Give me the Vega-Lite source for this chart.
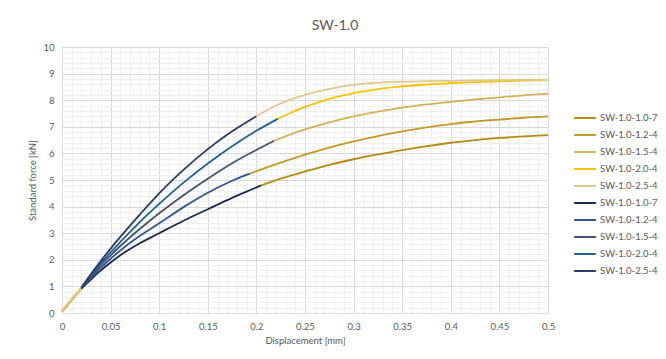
{
  "$schema": "https://vega.github.io/schema/vega-lite/v6.json",
  "width": 486,
  "height": 266,
  "autosize": {"type": "none"},
  "padding": {"left": 62, "top": 47, "right": 118, "bottom": 46},
  "background": "white",
  "title": {
    "text": "SW-1.0",
    "font": "Lato",
    "fontSize": 14,
    "fontWeight": "normal",
    "color": "#595959",
    "anchor": "middle",
    "frame": "group",
    "dx": 30,
    "offset": 9
  },
  "config": {
    "font": "Lato",
    "view": {"stroke": "#D9D9D9", "strokeWidth": 1},
    "axis": {
      "labelFont": "Lato",
      "labelFontSize": 9.5,
      "labelColor": "#595959",
      "labelFlush": false,
      "labelOverlap": false,
      "titleFont": "Lato",
      "titleFontSize": 9.5,
      "titleFontWeight": "normal",
      "titleColor": "#595959",
      "ticks": false,
      "domain": false,
      "gridColor": "#D9D9D9",
      "gridWidth": 1
    },
    "legend": {
      "labelFont": "Lato",
      "labelFontSize": 9.5,
      "labelColor": "#595959",
      "symbolType": "stroke",
      "symbolSize": 470,
      "symbolStrokeWidth": 2,
      "rowPadding": -3,
      "labelOffset": 3,
      "padding": 0
    }
  },
  "data": {
    "values": [
      {"s": "g:SW-1.0-1.0-7", "p": "a", "x": 0, "y": 0.05},
      {"s": "g:SW-1.0-1.0-7", "p": "a", "x": 0.005, "y": 0.27},
      {"s": "g:SW-1.0-1.0-7", "p": "a", "x": 0.01, "y": 0.49},
      {"s": "g:SW-1.0-1.0-7", "p": "a", "x": 0.015, "y": 0.71},
      {"s": "g:SW-1.0-1.0-7", "p": "a", "x": 0.022, "y": 0.98},
      {"s": "g:SW-1.0-1.0-7", "p": "b", "x": 0.205, "y": 4.8},
      {"s": "g:SW-1.0-1.0-7", "p": "b", "x": 0.225, "y": 5.05},
      {"s": "g:SW-1.0-1.0-7", "p": "b", "x": 0.25, "y": 5.32},
      {"s": "g:SW-1.0-1.0-7", "p": "b", "x": 0.275, "y": 5.57},
      {"s": "g:SW-1.0-1.0-7", "p": "b", "x": 0.3, "y": 5.78},
      {"s": "g:SW-1.0-1.0-7", "p": "b", "x": 0.325, "y": 5.96},
      {"s": "g:SW-1.0-1.0-7", "p": "b", "x": 0.35, "y": 6.12},
      {"s": "g:SW-1.0-1.0-7", "p": "b", "x": 0.375, "y": 6.27},
      {"s": "g:SW-1.0-1.0-7", "p": "b", "x": 0.4, "y": 6.4},
      {"s": "g:SW-1.0-1.0-7", "p": "b", "x": 0.425, "y": 6.5},
      {"s": "g:SW-1.0-1.0-7", "p": "b", "x": 0.45, "y": 6.58},
      {"s": "g:SW-1.0-1.0-7", "p": "b", "x": 0.475, "y": 6.64},
      {"s": "g:SW-1.0-1.0-7", "p": "b", "x": 0.5, "y": 6.69},

      {"s": "g:SW-1.0-1.2-4", "p": "a", "x": 0, "y": 0.06},
      {"s": "g:SW-1.0-1.2-4", "p": "a", "x": 0.005, "y": 0.28},
      {"s": "g:SW-1.0-1.2-4", "p": "a", "x": 0.01, "y": 0.5},
      {"s": "g:SW-1.0-1.2-4", "p": "a", "x": 0.015, "y": 0.72},
      {"s": "g:SW-1.0-1.2-4", "p": "a", "x": 0.022, "y": 1.0},
      {"s": "g:SW-1.0-1.2-4", "p": "b", "x": 0.193, "y": 5.24},
      {"s": "g:SW-1.0-1.2-4", "p": "b", "x": 0.2, "y": 5.33},
      {"s": "g:SW-1.0-1.2-4", "p": "b", "x": 0.225, "y": 5.65},
      {"s": "g:SW-1.0-1.2-4", "p": "b", "x": 0.25, "y": 5.95},
      {"s": "g:SW-1.0-1.2-4", "p": "b", "x": 0.275, "y": 6.22},
      {"s": "g:SW-1.0-1.2-4", "p": "b", "x": 0.3, "y": 6.45},
      {"s": "g:SW-1.0-1.2-4", "p": "b", "x": 0.325, "y": 6.65},
      {"s": "g:SW-1.0-1.2-4", "p": "b", "x": 0.35, "y": 6.83},
      {"s": "g:SW-1.0-1.2-4", "p": "b", "x": 0.375, "y": 6.98},
      {"s": "g:SW-1.0-1.2-4", "p": "b", "x": 0.4, "y": 7.1},
      {"s": "g:SW-1.0-1.2-4", "p": "b", "x": 0.425, "y": 7.2},
      {"s": "g:SW-1.0-1.2-4", "p": "b", "x": 0.45, "y": 7.27},
      {"s": "g:SW-1.0-1.2-4", "p": "b", "x": 0.475, "y": 7.34},
      {"s": "g:SW-1.0-1.2-4", "p": "b", "x": 0.5, "y": 7.39},

      {"s": "g:SW-1.0-1.5-4", "p": "a", "x": 0, "y": 0.07},
      {"s": "g:SW-1.0-1.5-4", "p": "a", "x": 0.005, "y": 0.29},
      {"s": "g:SW-1.0-1.5-4", "p": "a", "x": 0.01, "y": 0.51},
      {"s": "g:SW-1.0-1.5-4", "p": "a", "x": 0.015, "y": 0.73},
      {"s": "g:SW-1.0-1.5-4", "p": "a", "x": 0.022, "y": 1.01},
      {"s": "g:SW-1.0-1.5-4", "p": "b", "x": 0.218, "y": 6.47},
      {"s": "g:SW-1.0-1.5-4", "p": "b", "x": 0.225, "y": 6.57},
      {"s": "g:SW-1.0-1.5-4", "p": "b", "x": 0.25, "y": 6.9},
      {"s": "g:SW-1.0-1.5-4", "p": "b", "x": 0.275, "y": 7.17},
      {"s": "g:SW-1.0-1.5-4", "p": "b", "x": 0.3, "y": 7.39},
      {"s": "g:SW-1.0-1.5-4", "p": "b", "x": 0.325, "y": 7.57},
      {"s": "g:SW-1.0-1.5-4", "p": "b", "x": 0.35, "y": 7.72},
      {"s": "g:SW-1.0-1.5-4", "p": "b", "x": 0.375, "y": 7.84},
      {"s": "g:SW-1.0-1.5-4", "p": "b", "x": 0.4, "y": 7.94},
      {"s": "g:SW-1.0-1.5-4", "p": "b", "x": 0.425, "y": 8.03},
      {"s": "g:SW-1.0-1.5-4", "p": "b", "x": 0.45, "y": 8.11},
      {"s": "g:SW-1.0-1.5-4", "p": "b", "x": 0.475, "y": 8.18},
      {"s": "g:SW-1.0-1.5-4", "p": "b", "x": 0.5, "y": 8.25},

      {"s": "g:SW-1.0-2.0-4", "p": "a", "x": 0, "y": 0.07},
      {"s": "g:SW-1.0-2.0-4", "p": "a", "x": 0.005, "y": 0.3},
      {"s": "g:SW-1.0-2.0-4", "p": "a", "x": 0.01, "y": 0.52},
      {"s": "g:SW-1.0-2.0-4", "p": "a", "x": 0.015, "y": 0.74},
      {"s": "g:SW-1.0-2.0-4", "p": "a", "x": 0.022, "y": 1.02},
      {"s": "g:SW-1.0-2.0-4", "p": "b", "x": 0.222, "y": 7.3},
      {"s": "g:SW-1.0-2.0-4", "p": "b", "x": 0.235, "y": 7.52},
      {"s": "g:SW-1.0-2.0-4", "p": "b", "x": 0.25, "y": 7.75},
      {"s": "g:SW-1.0-2.0-4", "p": "b", "x": 0.275, "y": 8.05},
      {"s": "g:SW-1.0-2.0-4", "p": "b", "x": 0.3, "y": 8.27},
      {"s": "g:SW-1.0-2.0-4", "p": "b", "x": 0.325, "y": 8.42},
      {"s": "g:SW-1.0-2.0-4", "p": "b", "x": 0.35, "y": 8.52},
      {"s": "g:SW-1.0-2.0-4", "p": "b", "x": 0.375, "y": 8.59},
      {"s": "g:SW-1.0-2.0-4", "p": "b", "x": 0.4, "y": 8.64},
      {"s": "g:SW-1.0-2.0-4", "p": "b", "x": 0.425, "y": 8.68},
      {"s": "g:SW-1.0-2.0-4", "p": "b", "x": 0.45, "y": 8.71},
      {"s": "g:SW-1.0-2.0-4", "p": "b", "x": 0.475, "y": 8.74},
      {"s": "g:SW-1.0-2.0-4", "p": "b", "x": 0.5, "y": 8.76},

      {"s": "g:SW-1.0-2.5-4", "p": "a", "x": 0, "y": 0.08},
      {"s": "g:SW-1.0-2.5-4", "p": "a", "x": 0.005, "y": 0.31},
      {"s": "g:SW-1.0-2.5-4", "p": "a", "x": 0.01, "y": 0.53},
      {"s": "g:SW-1.0-2.5-4", "p": "a", "x": 0.015, "y": 0.75},
      {"s": "g:SW-1.0-2.5-4", "p": "a", "x": 0.022, "y": 1.03},
      {"s": "g:SW-1.0-2.5-4", "p": "b", "x": 0.2, "y": 7.4},
      {"s": "g:SW-1.0-2.5-4", "p": "b", "x": 0.212, "y": 7.65},
      {"s": "g:SW-1.0-2.5-4", "p": "b", "x": 0.225, "y": 7.88},
      {"s": "g:SW-1.0-2.5-4", "p": "b", "x": 0.25, "y": 8.2},
      {"s": "g:SW-1.0-2.5-4", "p": "b", "x": 0.275, "y": 8.43},
      {"s": "g:SW-1.0-2.5-4", "p": "b", "x": 0.3, "y": 8.58},
      {"s": "g:SW-1.0-2.5-4", "p": "b", "x": 0.325, "y": 8.66},
      {"s": "g:SW-1.0-2.5-4", "p": "b", "x": 0.35, "y": 8.7},
      {"s": "g:SW-1.0-2.5-4", "p": "b", "x": 0.375, "y": 8.72},
      {"s": "g:SW-1.0-2.5-4", "p": "b", "x": 0.4, "y": 8.73},
      {"s": "g:SW-1.0-2.5-4", "p": "b", "x": 0.45, "y": 8.75},
      {"s": "g:SW-1.0-2.5-4", "p": "b", "x": 0.5, "y": 8.77},

      {"s": "b:SW-1.0-1.0-7", "p": "m", "x": 0.02, "y": 0.92},
      {"s": "b:SW-1.0-1.0-7", "p": "m", "x": 0.03, "y": 1.27},
      {"s": "b:SW-1.0-1.0-7", "p": "m", "x": 0.04, "y": 1.6},
      {"s": "b:SW-1.0-1.0-7", "p": "m", "x": 0.05, "y": 1.9},
      {"s": "b:SW-1.0-1.0-7", "p": "m", "x": 0.06, "y": 2.17},
      {"s": "b:SW-1.0-1.0-7", "p": "m", "x": 0.08, "y": 2.62},
      {"s": "b:SW-1.0-1.0-7", "p": "m", "x": 0.1, "y": 3.0},
      {"s": "b:SW-1.0-1.0-7", "p": "m", "x": 0.125, "y": 3.47},
      {"s": "b:SW-1.0-1.0-7", "p": "m", "x": 0.15, "y": 3.9},
      {"s": "b:SW-1.0-1.0-7", "p": "m", "x": 0.175, "y": 4.33},
      {"s": "b:SW-1.0-1.0-7", "p": "m", "x": 0.2, "y": 4.72},
      {"s": "b:SW-1.0-1.0-7", "p": "m", "x": 0.205, "y": 4.8},

      {"s": "b:SW-1.0-1.2-4", "p": "m", "x": 0.02, "y": 0.93},
      {"s": "b:SW-1.0-1.2-4", "p": "m", "x": 0.03, "y": 1.33},
      {"s": "b:SW-1.0-1.2-4", "p": "m", "x": 0.04, "y": 1.7},
      {"s": "b:SW-1.0-1.2-4", "p": "m", "x": 0.05, "y": 2.04},
      {"s": "b:SW-1.0-1.2-4", "p": "m", "x": 0.06, "y": 2.35},
      {"s": "b:SW-1.0-1.2-4", "p": "m", "x": 0.08, "y": 2.9},
      {"s": "b:SW-1.0-1.2-4", "p": "m", "x": 0.1, "y": 3.37},
      {"s": "b:SW-1.0-1.2-4", "p": "m", "x": 0.125, "y": 3.98},
      {"s": "b:SW-1.0-1.2-4", "p": "m", "x": 0.15, "y": 4.52},
      {"s": "b:SW-1.0-1.2-4", "p": "m", "x": 0.175, "y": 4.97},
      {"s": "b:SW-1.0-1.2-4", "p": "m", "x": 0.193, "y": 5.24},

      {"s": "b:SW-1.0-1.5-4", "p": "m", "x": 0.02, "y": 0.94},
      {"s": "b:SW-1.0-1.5-4", "p": "m", "x": 0.03, "y": 1.38},
      {"s": "b:SW-1.0-1.5-4", "p": "m", "x": 0.04, "y": 1.8},
      {"s": "b:SW-1.0-1.5-4", "p": "m", "x": 0.05, "y": 2.17},
      {"s": "b:SW-1.0-1.5-4", "p": "m", "x": 0.06, "y": 2.52},
      {"s": "b:SW-1.0-1.5-4", "p": "m", "x": 0.08, "y": 3.16},
      {"s": "b:SW-1.0-1.5-4", "p": "m", "x": 0.1, "y": 3.75},
      {"s": "b:SW-1.0-1.5-4", "p": "m", "x": 0.125, "y": 4.43},
      {"s": "b:SW-1.0-1.5-4", "p": "m", "x": 0.15, "y": 5.05},
      {"s": "b:SW-1.0-1.5-4", "p": "m", "x": 0.175, "y": 5.63},
      {"s": "b:SW-1.0-1.5-4", "p": "m", "x": 0.2, "y": 6.13},
      {"s": "b:SW-1.0-1.5-4", "p": "m", "x": 0.218, "y": 6.47},

      {"s": "b:SW-1.0-2.0-4", "p": "m", "x": 0.02, "y": 0.95},
      {"s": "b:SW-1.0-2.0-4", "p": "m", "x": 0.03, "y": 1.42},
      {"s": "b:SW-1.0-2.0-4", "p": "m", "x": 0.04, "y": 1.87},
      {"s": "b:SW-1.0-2.0-4", "p": "m", "x": 0.05, "y": 2.28},
      {"s": "b:SW-1.0-2.0-4", "p": "m", "x": 0.06, "y": 2.67},
      {"s": "b:SW-1.0-2.0-4", "p": "m", "x": 0.08, "y": 3.42},
      {"s": "b:SW-1.0-2.0-4", "p": "m", "x": 0.1, "y": 4.1},
      {"s": "b:SW-1.0-2.0-4", "p": "m", "x": 0.125, "y": 4.9},
      {"s": "b:SW-1.0-2.0-4", "p": "m", "x": 0.15, "y": 5.62},
      {"s": "b:SW-1.0-2.0-4", "p": "m", "x": 0.175, "y": 6.27},
      {"s": "b:SW-1.0-2.0-4", "p": "m", "x": 0.2, "y": 6.85},
      {"s": "b:SW-1.0-2.0-4", "p": "m", "x": 0.222, "y": 7.3},

      {"s": "b:SW-1.0-2.5-4", "p": "m", "x": 0.02, "y": 0.96},
      {"s": "b:SW-1.0-2.5-4", "p": "m", "x": 0.03, "y": 1.47},
      {"s": "b:SW-1.0-2.5-4", "p": "m", "x": 0.04, "y": 1.96},
      {"s": "b:SW-1.0-2.5-4", "p": "m", "x": 0.05, "y": 2.42},
      {"s": "b:SW-1.0-2.5-4", "p": "m", "x": 0.06, "y": 2.86},
      {"s": "b:SW-1.0-2.5-4", "p": "m", "x": 0.08, "y": 3.7},
      {"s": "b:SW-1.0-2.5-4", "p": "m", "x": 0.1, "y": 4.5},
      {"s": "b:SW-1.0-2.5-4", "p": "m", "x": 0.125, "y": 5.38},
      {"s": "b:SW-1.0-2.5-4", "p": "m", "x": 0.15, "y": 6.16},
      {"s": "b:SW-1.0-2.5-4", "p": "m", "x": 0.175, "y": 6.83},
      {"s": "b:SW-1.0-2.5-4", "p": "m", "x": 0.2, "y": 7.4}
    ]
  },
  "layer": [
    {
      "transform": [{"filter": "datum.p !== 'm'"}],
      "mark": {"type": "line", "strokeWidth": 1.8, "interpolate": "monotone"},
      "encoding": {
        "x": {
          "field": "x",
          "type": "quantitative",
          "scale": {"domain": [0, 0.5], "nice": false, "zero": false},
          "axis": {
            "orient": "bottom",
            "values": [0, 0.01, 0.02, 0.03, 0.04, 0.05, 0.06, 0.07, 0.08, 0.09, 0.1, 0.11, 0.12, 0.13, 0.14, 0.15, 0.16, 0.17, 0.18, 0.19, 0.2, 0.21, 0.22, 0.23, 0.24, 0.25, 0.26, 0.27, 0.28, 0.29, 0.3, 0.31, 0.32, 0.33, 0.34, 0.35, 0.36, 0.37, 0.38, 0.39, 0.4, 0.41, 0.42, 0.43, 0.44, 0.45, 0.46, 0.47, 0.48, 0.49, 0.5],
            "grid": true,
            "gridColor": "#EFEFEF",
            "labels": false,
            "title": null
          }
        },
        "y": {
          "field": "y",
          "type": "quantitative",
          "scale": {"domain": [0, 10], "nice": false},
          "axis": {
            "orient": "left",
            "values": [0, 0.2, 0.4, 0.6, 0.8, 1, 1.2, 1.4, 1.6, 1.8, 2, 2.2, 2.4, 2.6, 2.8, 3, 3.2, 3.4, 3.6, 3.8, 4, 4.2, 4.4, 4.6, 4.8, 5, 5.2, 5.4, 5.6, 5.8, 6, 6.2, 6.4, 6.6, 6.8, 7, 7.2, 7.4, 7.6, 7.8, 8, 8.2, 8.4, 8.6, 8.8, 9, 9.2, 9.4, 9.6, 9.8, 10],
            "grid": true,
            "gridColor": "#EFEFEF",
            "labels": false,
            "title": null
          }
        },
        "color": {
          "field": "s",
          "type": "nominal",
          "scale": {
            "domain": ["g:SW-1.0-1.0-7", "g:SW-1.0-1.2-4", "g:SW-1.0-1.5-4", "g:SW-1.0-2.0-4", "g:SW-1.0-2.5-4", "b:SW-1.0-1.0-7", "b:SW-1.0-1.2-4", "b:SW-1.0-1.5-4", "b:SW-1.0-2.0-4", "b:SW-1.0-2.5-4"],
            "range": ["#B8890F", "#C49A26", "#D4B152", "#FFC000", "#E0C78A", "#1C2B52", "#2F5597", "#44546A", "#1F6391", "#2B3A67"]
          },
          "legend": {
            "orient": "none",
            "legendX": 511,
            "legendY": 59,
            "title": null,
            "labelExpr": "slice(datum.label, 2)"
          }
        },
        "detail": {"field": "p"}
      }
    },
    {
      "transform": [{"filter": "datum.p === 'm'"}],
      "mark": {"type": "line", "strokeWidth": 1.8, "interpolate": "monotone"},
      "encoding": {
        "x": {
          "field": "x",
          "type": "quantitative",
          "axis": {
            "orient": "bottom",
            "values": [0, 0.05, 0.1, 0.15, 0.2, 0.25, 0.3, 0.35, 0.4, 0.45, 0.5],
            "format": "~g",
            "grid": true,
            "labelPadding": 8,
            "title": "Displacement [mm]",
            "titlePadding": 5
          }
        },
        "y": {
          "field": "y",
          "type": "quantitative",
          "axis": {
            "orient": "left",
            "values": [0, 1, 2, 3, 4, 5, 6, 7, 8, 9, 10],
            "grid": true,
            "labelPadding": 8,
            "title": "Standard force [kN]",
            "titlePadding": 5
          }
        },
        "color": {"field": "s", "type": "nominal"}
      }
    }
  ],
  "resolve": {"axis": {"x": "independent", "y": "independent"}}
}
